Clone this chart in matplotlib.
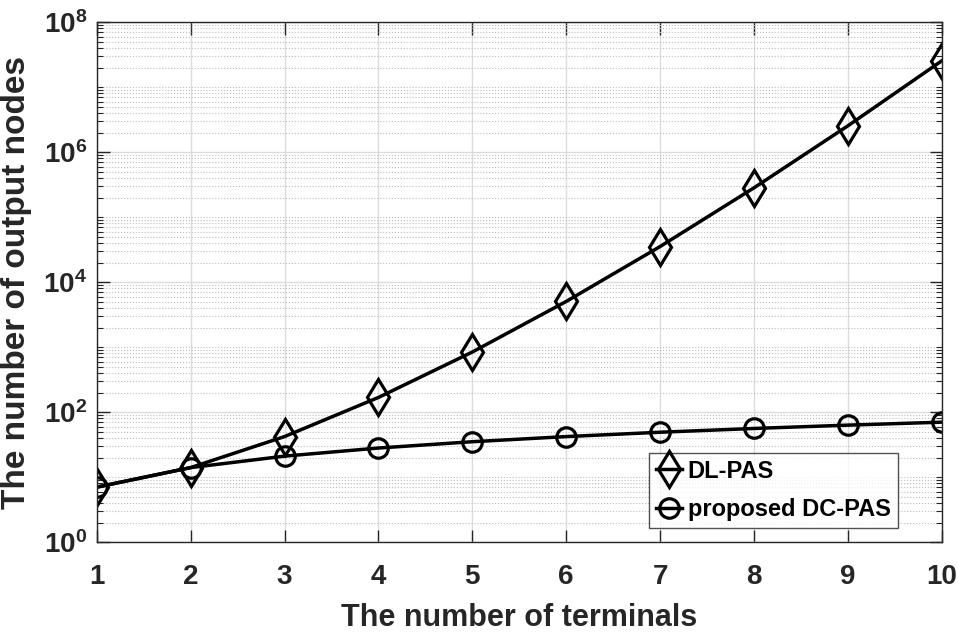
import math
import matplotlib
matplotlib.use('Agg')
import matplotlib.pyplot as plt
from matplotlib.ticker import LogLocator, FuncFormatter, NullFormatter

plt.rcParams['font.family'] = ['Liberation Sans', 'DejaVu Sans']
plt.rcParams['font.weight'] = 'bold'
plt.rcParams['mathtext.fontset'] = 'custom'
plt.rcParams['mathtext.rm'] = 'Liberation Sans:bold'
plt.rcParams['mathtext.bf'] = 'Liberation Sans:bold'
plt.rcParams['mathtext.it'] = 'Liberation Sans:bold'

# data
terminals = [1, 2, 3, 4, 5, 6, 7, 8, 9, 10]
dl_pas = [7, 14, 42, 168, 840, 5040, 35280, 282240, 2540160, 25401600]
dc_pas = [7, 14, 21, 28, 35, 42, 49, 56, 63, 70]
ytick_vals = [1e0, 1e2, 1e4, 1e6, 1e8]

txt = '#262626'

fig = plt.figure(figsize=(9.58, 6.34), dpi=100)
ax = fig.add_axes([0.101, 0.145, 0.882, 0.820])

ax.semilogy(terminals, dl_pas, color='black', lw=2.5, marker='d', ms=18,
            mfc='none', mec='black', mew=2.3, label='DL-PAS')
ax.semilogy(terminals, dc_pas, color='black', lw=2.5, marker='o', ms=14,
            mfc='none', mec='black', mew=2.3, label='proposed DC-PAS')

ax.set_xlim(1, 10)
ax.set_ylim(1, 1e8)
ax.set_xticks(terminals)
ax.set_yticks(ytick_vals)
ax.yaxis.set_minor_locator(LogLocator(base=10, subs=range(1, 10), numticks=100))
ax.yaxis.set_minor_formatter(NullFormatter())
ax.yaxis.set_major_formatter(FuncFormatter(lambda v, p: r'$10^{%d}$' % round(math.log10(v))))

ax.grid(True, which='major', color='#dcdcdc', lw=1.0, ls='-')
ax.grid(True, which='minor', axis='y', color='#bdbdbd', lw=0.8, ls=':')
ax.set_axisbelow(True)

ax.tick_params(which='both', direction='in', top=True, right=True, colors=txt)
ax.tick_params(which='major', length=9, width=1.0, labelsize=20)
ax.tick_params(axis='x', which='major', pad=16)
ax.tick_params(axis='y', which='major', pad=7)
ax.tick_params(which='minor', length=4, width=0.8)
for s in ax.spines.values():
    s.set_color('#262626')
    s.set_linewidth(1.0)

ax.set_xlabel('The number of terminals', fontsize=22, fontweight='bold', color=txt, labelpad=9)
ax.set_ylabel('The number of output nodes', fontsize=24, fontweight='bold', color=txt, labelpad=8)

leg = ax.legend(loc='lower right', bbox_to_anchor=(0.948, 0.027), fontsize=17,
                frameon=True, fancybox=False, edgecolor='#262626',
                handlelength=1.1, handletextpad=0.25, borderpad=0.3,
                labelspacing=0.65, borderaxespad=0.0)
leg.get_frame().set_linewidth(1.0)

fig.savefig('out.png', dpi=100)
